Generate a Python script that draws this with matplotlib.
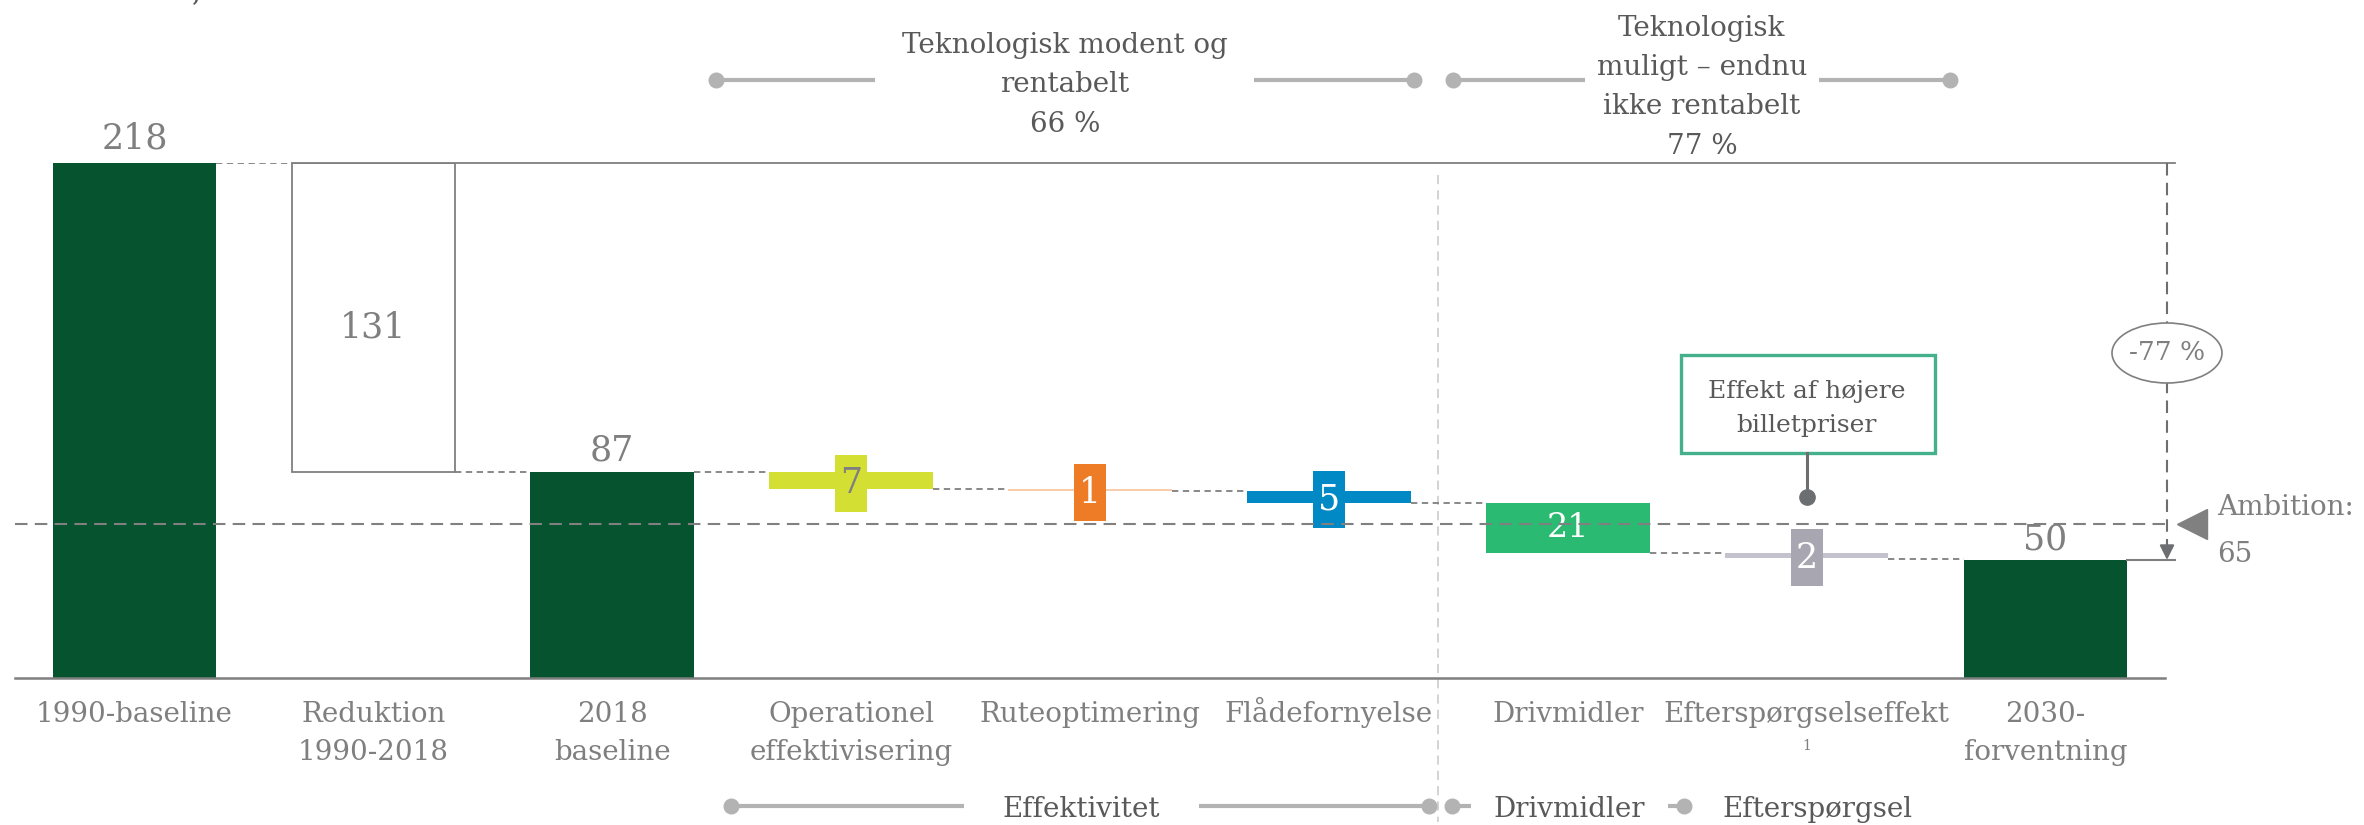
import matplotlib
matplotlib.use("Agg")
import matplotlib.pyplot as plt
from matplotlib.patches import Ellipse, Rectangle

# ---------------- data ----------------
categories = ["1990-baseline", "Reduktion\n1990-2018", "2018\nbaseline",
              "Operationel\neffektivisering", "Ruteoptimering", "Flådefornyelse",
              "Drivmidler", "Efterspørgselseffekt", "2030-\nforventning"]
baseline_1990 = 218
reduction_1990_2018 = 131
baseline_2018 = 87
step_values = [7, 1, 5, 21, 2]
forecast_2030 = 50
ambition = 65
reduction_label = "-77 %"
top_groups = ["Teknologisk modent og\nrentabelt\n66 %",
              "Teknologisk\nmuligt – endnu\nikke rentabelt\n77 %"]
bottom_groups = ["Effektivitet", "Drivmidler", "Efterspørgsel"]
callout_text = "Effekt af højere\nbilletpriser"
footnote_mark = "1"

# ---------------- style ----------------
plt.rcParams["font.family"] = ["DejaVu Serif", "DejaVu Sans"]
DARK = "#05532F"
GREY = "#7F7F7F"
TXT = "#595959"
LIGHT = "#B3B3B3"
step_colors = ["#D4DF33", "#EE7C27", "#0089C4", "#2BBA72", "#A8A6B0"]
step_line_colors = ["#D4DF33", "#F9CDAB", "#0089C4", "#2BBA72", "#C4C2CC"]
step_text_colors = [GREY, "white", "white", "white", "white"]

W, H = 2364, 825
fig = plt.figure(figsize=(W / 100, H / 100), dpi=100)
ax = fig.add_axes([15 / W, 1 - 678 / H, 2150 / W, 515 / H])
ax.set_xlim(-0.5, 8.5)
ax.set_ylim(0, 218)
ax.axis("off")


def X(px):
    return (px - 15) / 2150 * 9 - 0.5


def Y(py):
    return (678 - py) / 515 * 218


def lines_text(x, first_baseline_px, text, pitch_px, **kw):
    for k, line in enumerate(text.split("\n")):
        ax.text(x, Y(first_baseline_px + k * pitch_px), line, ha="center",
                va="baseline", clip_on=False, **kw)


bw = 0.685
FS = 20
NUM = 25

# main bars
ax.bar(0, baseline_1990, bw, color=DARK, zorder=2)
ax.bar(1, reduction_1990_2018, bw, bottom=baseline_2018, facecolor="white",
       edgecolor=GREY, lw=1.3, zorder=2)
ax.bar(2, baseline_2018, bw, color=DARK, zorder=2)
ax.bar(8, forecast_2030, bw, color=DARK, zorder=2)

ax.text(0, baseline_1990 + 6, str(baseline_1990), ha="center", va="baseline",
        fontsize=NUM, color=GREY)
ax.text(1, baseline_2018 + reduction_1990_2018 / 2 - 4, str(reduction_1990_2018),
        ha="center", va="center", fontsize=NUM, color=GREY)
ax.text(2, baseline_2018 + 5, str(baseline_2018), ha="center", va="baseline",
        fontsize=NUM, color=GREY)
ax.text(8, forecast_2030 + 4.5, str(forecast_2030), ha="center", va="baseline",
        fontsize=NUM, color=GREY, zorder=6)

dot = (0, (3.5, 2.5))
# connectors
ax.plot([0 + bw / 2, 1 - bw / 2], [baseline_1990] * 2, color=GREY, lw=1.3, ls=dot)
ax.plot([1 + bw / 2, 2 - bw / 2], [baseline_2018] * 2, color=GREY, lw=1.3, ls=dot)

level = baseline_2018
box_w = 32 / 238.9
box_h = 57 / 2.3624
for i, v in enumerate(step_values):
    x = 3 + i
    ax.plot([x - 1 + bw / 2, x - bw / 2], [level] * 2, color=GREY, lw=1.3, ls=dot)
    bottom = level - v
    ax.bar(x, v, bw, bottom=bottom, color=step_line_colors[i], zorder=2)
    mid = bottom + v / 2
    if v < 10:
        ax.add_patch(Rectangle((x - box_w / 2, mid - 1 - box_h / 2), box_w, box_h,
                               color=step_colors[i], zorder=3, lw=0))
        ax.text(x, mid - 1, str(v), ha="center", va="center", fontsize=NUM,
                color=step_text_colors[i], zorder=4)
    else:
        ax.text(x, mid, str(v), ha="center", va="center", fontsize=NUM - 1,
                color=step_text_colors[i], zorder=4)
    level = bottom
ax.plot([7 + bw / 2, 8 - bw / 2], [forecast_2030 + 0.5] * 2, color=GREY, lw=1.3, ls=dot)

# axis and top line
ax.plot([-0.5, 8.5], [0, 0], color=GREY, lw=1.8, zorder=5, clip_on=False)
ax.plot([1 - bw / 2, X(2175)], [baseline_1990] * 2, color=GREY, lw=1.3,
        zorder=5, clip_on=False)

# ambition line
ax.plot([-0.5, X(2170)], [ambition] * 2, color="#808080", lw=1.5,
        ls=(0, (6, 3.5)), zorder=5, clip_on=False)
ax.plot(X(2191.5), ambition, marker="<", ms=21, color="#808080", clip_on=False)
ax.text(X(2217), Y(515), "Ambition:", ha="left", va="baseline", fontsize=FS,
        color=GREY, clip_on=False)
ax.text(X(2217), Y(562), str(ambition), ha="left", va="baseline", fontsize=FS,
        color=GREY, clip_on=False)

# separator
ax.plot([X(1438)] * 2, [Y(175), Y(822)], color="#C8C8C8", lw=1.1,
        ls=(0, (6, 4)), clip_on=False, zorder=1)

# -77% arrow
xr = X(2167)
ax.plot([xr, xr], [baseline_1990, forecast_2030 + 6], color="#6D6E71", lw=1.5,
        ls=(0, (6, 3.5)), clip_on=False, zorder=5)
ax.annotate("", xy=(xr, forecast_2030), xytext=(xr, forecast_2030 + 7),
            arrowprops=dict(arrowstyle="-|>", color="#6D6E71", lw=1.5,
                            mutation_scale=22, shrinkA=0, shrinkB=0),
            annotation_clip=False, zorder=5)
ax.plot([8 + bw / 2, X(2175)], [forecast_2030] * 2, color=GREY, lw=1.5,
        clip_on=False, zorder=5)
ax.add_patch(Ellipse((xr, Y(353)), 110 / 238.9, 60 / 2.3624, facecolor="white",
                     edgecolor=GREY, lw=1.2, zorder=6, clip_on=False))
ax.text(xr, Y(353), reduction_label, ha="center", va="center", fontsize=19,
        color=GREY, zorder=7, clip_on=False)

# callout
ax.add_patch(Rectangle((X(1681), Y(453)), X(1935) - X(1681), Y(355) - Y(453),
                       facecolor="white", edgecolor="#45B08C", lw=2.4,
                       zorder=6, clip_on=False))
lines_text(7, 398, callout_text, 34, fontsize=18, color=TXT, zorder=7)
ax.plot([7, 7], [Y(453), Y(497)], color="#6D6E71", lw=2.2, zorder=6)
ax.plot(7, Y(497), "o", ms=11, color="#6D6E71", zorder=6)

# category labels
for i, c in enumerate(categories):
    lines_text(i, 722, c, 38, fontsize=FS, color=GREY)
ax.text(7, Y(746), footnote_mark, ha="center", va="center", fontsize=10,
        color=GREY, clip_on=False)


# brackets
def seg(x0, x1, y, dots=()):
    ax.plot([X(x0), X(x1)], [Y(y)] * 2, color=LIGHT, lw=3, clip_on=False,
            solid_capstyle="butt")
    for d in dots:
        ax.plot(X(d), Y(y), "o", ms=10.5, color=LIGHT, clip_on=False)


seg(716, 875, 80, [716])
seg(1254, 1414, 80, [1414])
seg(1453, 1585, 80, [1453])
seg(1819, 1950, 80, [1950])
lines_text(X(1065), 53, top_groups[0], 39.5, fontsize=FS, color=TXT)
lines_text(X(1702), 36, top_groups[1], 39.2, fontsize=FS, color=TXT)

seg(731, 964, 806, [731])
seg(1199, 1429, 806, [1429])
seg(1452, 1471, 806, [1452])
seg(1668, 1684, 806, [1684])
ax.text(X(1081), Y(817), bottom_groups[0], ha="center", va="baseline", fontsize=FS,
        color=TXT, clip_on=False)
ax.text(X(1569), Y(817), bottom_groups[1], ha="center", va="baseline", fontsize=FS,
        color=TXT, clip_on=False)
ax.text(X(1818), Y(817), bottom_groups[2], ha="center", va="baseline", fontsize=FS,
        color=TXT, clip_on=False)

fig.text(192 / W, 1.0, ",", fontsize=20, color=TXT, va="baseline", ha="left")

fig.savefig("out.png", dpi=100)
